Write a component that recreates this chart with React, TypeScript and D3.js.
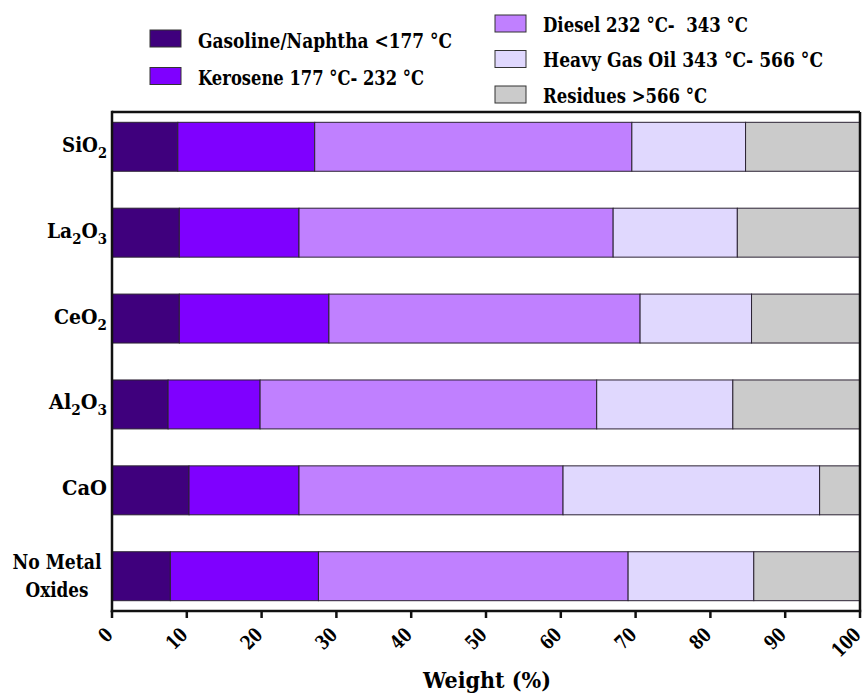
import React from "react";
import * as d3 from "d3";

const categories = ["SiO2", "La2O3", "CeO2", "Al2O3", "CaO", "No Metal Oxides"];
const seriesKeys = ["gasoline", "kerosene", "diesel", "hgo", "residues"];
const seriesNames = [
  "Gasoline/Naphtha <177 °C",
  "Kerosene 177 °C- 232 °C",
  "Diesel 232 °C-  343 °C",
  "Heavy Gas Oil 343 °C- 566 °C",
  "Residues >566 °C",
];
const gasoline = [8.8, 9.0, 9.0, 7.5, 10.3, 7.8];
const kerosene = [18.3, 16.0, 20.0, 12.3, 14.7, 19.8];
const diesel = [42.4, 42.0, 41.6, 45.0, 35.3, 41.4];
const heavyGasOil = [15.2, 16.6, 14.9, 18.2, 34.3, 16.8];
const residues = [15.3, 16.4, 14.5, 17.0, 5.4, 14.2];
const xTicks = [0, 10, 20, 30, 40, 50, 60, 70, 80, 90, 100];
const colors = ["#3F007D", "#7F00FF", "#C080FF", "#E0D8FE", "#CBCBCB"];

const labelParts: [string, string][][] = [
  [["Si", ""], ["O", "2"]],
  [["La", "2"], ["O", "3"]],
  [["Ce", ""], ["O", "2"]],
  [["Al", "2"], ["O", "3"]],
  [["CaO", ""]],
  [],
];
// rendered widths of the labels in the reference (layout)
const labelWidths = [45, 60, 53, 58, 45, 0];
const legendWidths = [254, 226, 205, 280, 164];

const W = 865;
const H = 694;
const left = 112;
const right = 860;
const top = 112;
const bottom = 611;
const tStyle: React.CSSProperties = {
  fontFamily: "'DejaVu Serif', serif",
  fontWeight: 700,
  whiteSpace: "pre",
};

export default function App() {
  const rows = categories.map((c, i) => ({
    cat: c,
    gasoline: gasoline[i],
    kerosene: kerosene[i],
    diesel: diesel[i],
    hgo: heavyGasOil[i],
    residues: residues[i],
  }));
  const stacked = d3.stack<any>().keys(seriesKeys)(rows);
  const x = d3.scaleLinear().domain([0, 100]).range([left, right]);
  const y = d3
    .scaleBand<string>()
    .domain(categories)
    .range([top, bottom])
    .paddingInner(0.43)
    .paddingOuter(0.12);
  const bw = y.bandwidth();

  const legendLeft = [0, 1];
  const legendRight = [2, 3, 4];

  return (
    <svg
      width={W}
      height={H}
      style={{ position: "absolute", left: 0, top: 0, background: "#fff" }}
    >
      {stacked.map((s, si) => (
        <g key={si}>
          {s.map((d: any, i: number) => (
            <rect
              key={i}
              x={x(d[0])}
              y={y(categories[i])}
              width={x(d[1]) - x(d[0])}
              height={bw}
              fill={colors[si]}
              stroke="#2b2233"
              strokeWidth={1}
            />
          ))}
        </g>
      ))}

      <line x1={left} x2={right} y1={top} y2={top} stroke="#111" strokeWidth={2.5} />
      <line x1={right} x2={right} y1={top} y2={bottom} stroke="#111" strokeWidth={2.5} />
      <line x1={left} x2={left} y1={top - 1.25} y2={bottom + 1.25} stroke="#111" strokeWidth={2.5} />
      <line x1={left - 1.25} x2={right + 1.25} y1={bottom} y2={bottom} stroke="#111" strokeWidth={2.5} />

      {xTicks.map((t) => (
        <g key={t}>
          <line x1={x(t)} x2={x(t)} y1={bottom} y2={bottom + 7} stroke="#111" strokeWidth={2.5} />
          <text
            x={x(t) + 2}
            y={636}
            fontSize={19.5}
            textAnchor="end"
            textLength={String(t).length * 10.5}
            lengthAdjust="spacingAndGlyphs"
            transform={`rotate(-45 ${x(t) + 2} 636)`}
            fill="#000"
            style={tStyle}
          >
            {t}
          </text>
        </g>
      ))}
      <text
        x={487}
        y={688}
        fontSize={23}
        textAnchor="middle"
        textLength={128}
        lengthAdjust="spacingAndGlyphs"
        fill="#000"
        style={tStyle}
      >
        Weight (%)
      </text>

      {categories.map((c, i) => {
        const cy = (y(c) as number) + bw / 2;
        if (labelParts[i].length === 0) {
          return (
            <g key={c}>
              <text x={57} y={cy - 7.5} fontSize={21} textAnchor="middle" textLength={89} lengthAdjust="spacingAndGlyphs" style={tStyle}>
                No Metal
              </text>
              <text x={57} y={cy + 20.5} fontSize={21} textAnchor="middle" textLength={63} lengthAdjust="spacingAndGlyphs" style={tStyle}>
                Oxides
              </text>
            </g>
          );
        }
        const parts = labelParts[i];
        return (
          <text
            key={c}
            x={107}
            y={cy + 5}
            fontSize={21}
            textAnchor="end"
            textLength={labelWidths[i]}
            lengthAdjust="spacingAndGlyphs"
            style={tStyle}
          >
            {parts.map((p, k) => {
              const prevSub = k > 0 && parts[k - 1][1] !== "";
              return (
                <React.Fragment key={k}>
                  <tspan dy={prevSub ? -6 : 0}>{p[0]}</tspan>
                  {p[1] ? (
                    <tspan fontSize={15} dy={6}>
                      {p[1]}
                    </tspan>
                  ) : null}
                </React.Fragment>
              );
            })}
          </text>
        );
      })}

      {legendLeft.map((si, k) => (
        <g key={si}>
          <rect x={150} y={30 + k * 37.5} width={31} height={17} fill={colors[si]} stroke="#333" strokeWidth={1} />
          <text x={198} y={47.5 + k * 37.5} fontSize={20.5} textLength={legendWidths[si]} lengthAdjust="spacingAndGlyphs" style={tStyle}>
            {seriesNames[si]}
          </text>
        </g>
      ))}
      {legendRight.map((si, k) => (
        <g key={si}>
          <rect x={495} y={15 + k * 35.5} width={31} height={17} fill={colors[si]} stroke="#333" strokeWidth={1} />
          <text x={543} y={31.5 + k * 35.5} fontSize={20.5} textLength={legendWidths[si]} lengthAdjust="spacingAndGlyphs" style={tStyle}>
            {seriesNames[si]}
          </text>
        </g>
      ))}
    </svg>
  );
}
